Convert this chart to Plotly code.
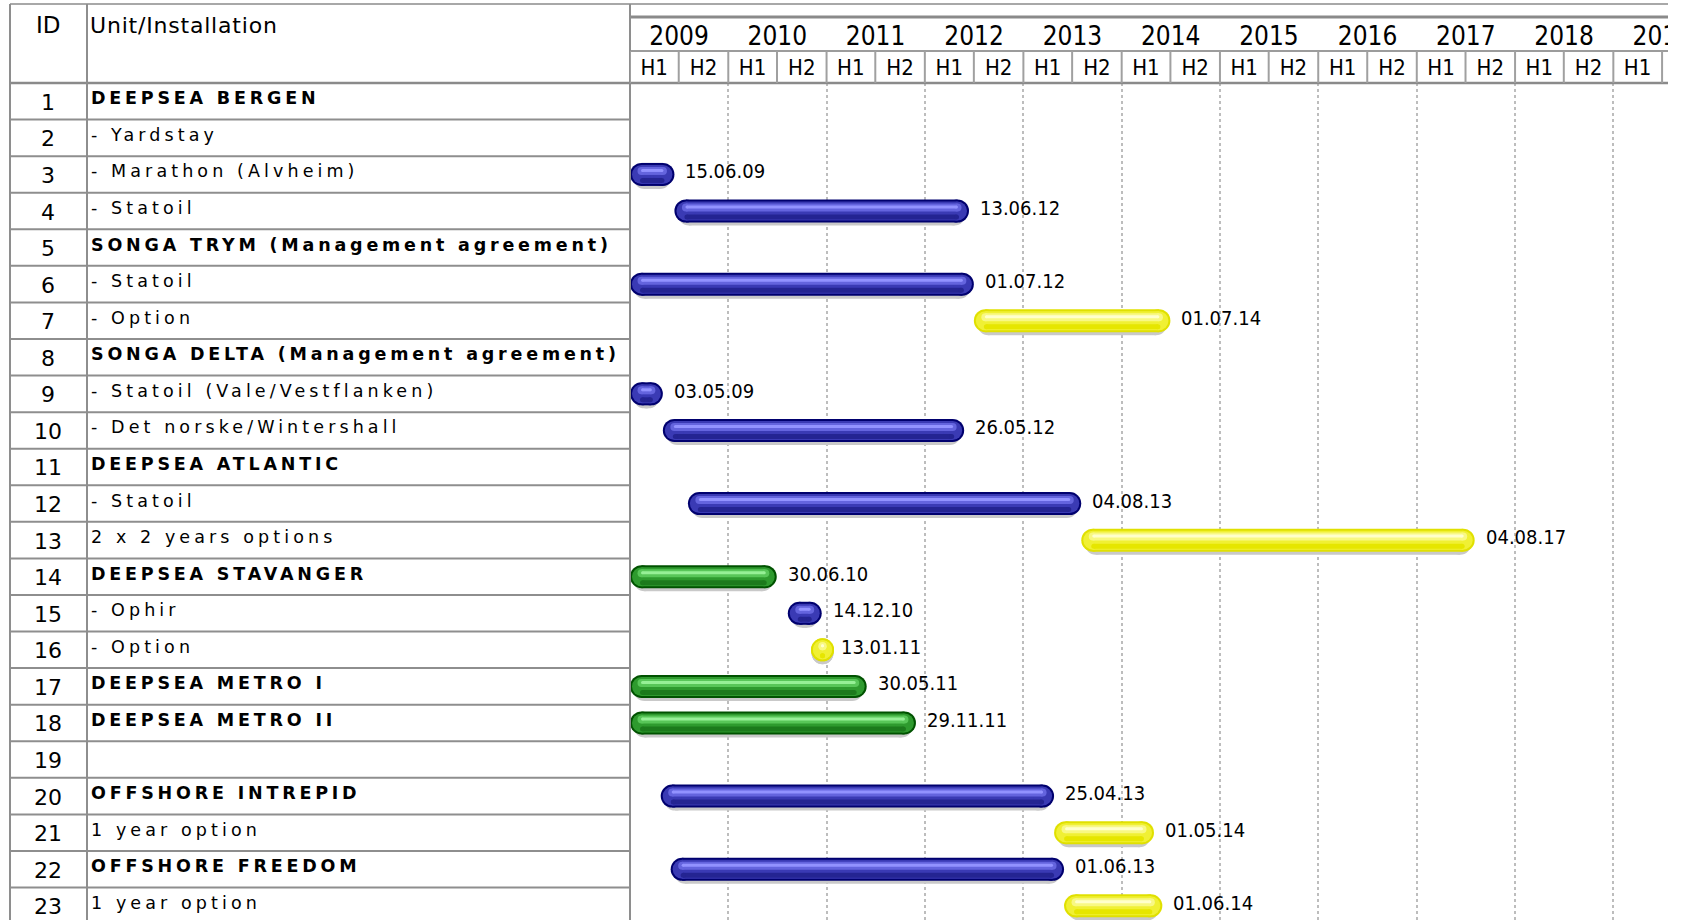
import plotly.graph_objects as go
import pandas as pd

# ---------------- data ----------------
row_ids = list(range(1, 24))
row_names = [
    "DEEPSEA BERGEN", "- Yardstay", "- Marathon (Alvheim)", "- Statoil",
    "SONGA TRYM (Management agreement)", "- Statoil", "- Option",
    "SONGA DELTA (Management agreement)", "- Statoil (Vale/Vestflanken)",
    "- Det norske/Wintershall", "DEEPSEA ATLANTIC", "- Statoil",
    "2 x 2 years options", "DEEPSEA STAVANGER", "- Ophir", "- Option",
    "DEEPSEA METRO I", "DEEPSEA METRO II", "", "OFFSHORE INTREPID",
    "1 year option", "OFFSHORE FREEDOM", "1 year option",
]
bold_rows = [1, 5, 8, 11, 14, 17, 18, 20, 22]

bar_rows = [3, 4, 6, 7, 9, 10, 12, 13, 14, 15, 16, 17, 18, 20, 21, 22, 23]
bar_starts = ["2009-01-01", "2009-06-15", "2009-01-01", "2012-07-01", "2009-01-01",
              "2009-05-03", "2009-08-04", "2013-08-04", "2009-01-01", "2010-08-10",
              "2010-11-20", "2009-01-01", "2009-01-01", "2009-04-25", "2013-04-25",
              "2009-06-01", "2013-06-01"]
bar_ends = ["2009-06-15", "2012-06-13", "2012-07-01", "2014-07-01", "2009-05-03",
            "2012-05-26", "2013-08-04", "2017-08-04", "2010-06-30", "2010-12-14",
            "2011-01-13", "2011-05-30", "2011-11-29", "2013-04-25", "2014-05-01",
            "2013-06-01", "2014-06-01"]
bar_kinds = ["contract", "contract", "contract", "option", "contract", "contract",
             "contract", "option", "own", "contract", "option", "own", "own",
             "contract", "option", "contract", "option"]
end_labels = ["15.06.09", "13.06.12", "01.07.12", "01.07.14", "03.05.09", "26.05.12",
              "04.08.13", "04.08.17", "30.06.10", "14.12.10", "13.01.11", "30.05.11",
              "29.11.11", "25.04.13", "01.05.14", "01.06.13", "01.06.14"]

years = list(range(2009, 2020))
half_labels = ["H1", "H2"]

# ---------------- layout constants ----------------
W, H = 1686, 920
CHART_L, CHART_R = 630, 1668
HEAD_B = 83
ROW_PX = 36.57
x_range = ["2009-01-01", "2019-07-23"]
ms_per_px = (pd.Timestamp(x_range[1]) - pd.Timestamp(x_range[0])).total_seconds() * 1000 / (CHART_R - CHART_L)

COND = "DejaVu Sans Condensed, Liberation Sans Narrow, DejaVu Sans, sans-serif"
WIDE = "DejaVu Sans, Verdana, sans-serif"

palettes = {
    "contract": dict(outline="#00006e", base="#3a3ab4", upper="#6464de", hi="#9292ff", lower="#242492"),
    "own": dict(outline="#005200", base="#2e9a2e", upper="#58c658", hi="#96f096", lower="#1c7a1c"),
    "option": dict(outline="#e0e000", base="#f0f034", upper="#f8f884", hi="#ffffcc", lower="#e6e600"),
}

fig = go.Figure()

BAR_R = 11.5  # half of bar thickness, px


def add_layer(kind, color, thick_px, dy_px, extra_inset_px, marker_px):
    xs, ys = [], []
    for r, s, e, k in zip(bar_rows, bar_starts, bar_ends, bar_kinds):
        if k != kind:
            continue
        s, e = pd.Timestamp(s), pd.Timestamp(e)
        inset = pd.Timedelta(milliseconds=(BAR_R + extra_inset_px) * ms_per_px)
        if (e - s) <= 2 * inset:
            c0 = c1 = s + (e - s) / 2
        else:
            c0, c1 = s + inset, e - inset
        yy = r + dy_px / ROW_PX
        xs += [c0.strftime("%Y-%m-%d %H:%M:%S"), c1.strftime("%Y-%m-%d %H:%M:%S"), None]
        ys += [yy, yy, None]
    fig.add_trace(go.Scatter(
        x=xs, y=ys, mode="lines+markers", connectgaps=False,
        line=dict(color=color, width=thick_px),
        marker=dict(color=color, size=marker_px, line=dict(width=0)),
        hoverinfo="skip", showlegend=False, xaxis="x", yaxis="y",
    ))


for kind, pal in palettes.items():
    add_layer(kind, "#c9c9c9", 22, 3.5, 3, 22)
    add_layer(kind, pal["outline"], 23, 0, 0, 23)
    add_layer(kind, pal["base"], 19, 0, 0, 19)
    add_layer(kind, pal["upper"], 8, -3.5, 0, 8)
    add_layer(kind, pal["hi"], 3, -4, 1, 3)
    add_layer(kind, pal["lower"], 5, 6, 1, 5)

# end-date labels
annotations = []
for r, e, lab in zip(bar_rows, bar_ends, end_labels):
    annotations.append(dict(x=e, y=r, xref="x", yref="y", text=lab, showarrow=False,
                            xanchor="left", yanchor="middle", xshift=9, yshift=3,
                            font=dict(family=COND, size=20, color="#000000")))

# header texts (years, halves) as clipped text traces
fig.add_trace(go.Scatter(
    x=[f"{y}-07-02" for y in years], y=[38.5] * len(years), mode="text",
    text=[str(y) for y in years], textfont=dict(family=COND, size=26, color="#000000"),
    xaxis="x2", yaxis="y2", hoverinfo="skip", showlegend=False,
))
hx, ht = [], []
for y in years:
    hx += [f"{y}-04-01", f"{y}-10-01"]
    ht += half_labels
fig.add_trace(go.Scatter(
    x=hx, y=[69.5] * len(hx), mode="text", text=ht,
    textfont=dict(family=COND, size=22, color="#000000"),
    xaxis="x2", yaxis="y2", hoverinfo="skip", showlegend=False,
))

# table texts
for i, nm in zip(row_ids, row_names):
    annotations.append(dict(x=48 / W, y=i, xref="paper", yref="y", text=str(i), showarrow=False,
                            xanchor="center", yanchor="middle", yshift=-1,
                            font=dict(family=WIDE, size=22, color="#000000")))
    if nm:
        if i in bold_rows:
            txt = f'<span style="letter-spacing:3.8px"><b>{nm}</b></span>'
        else:
            txt = f'<span style="letter-spacing:4.1px">{nm}</span>'
        annotations.append(dict(x=89 / W, y=i, xref="paper", yref="y", text=txt, showarrow=False,
                                xanchor="left", yanchor="middle", yshift=3,
                                font=dict(family=WIDE, size=17.5, color="#000000")))

annotations.append(dict(x=48 / W, y=1 - 25 / H, xref="paper", yref="paper", text="ID", showarrow=False,
                        xanchor="center", yanchor="middle", font=dict(family=WIDE, size=23, color="#000000")))
annotations.append(dict(x=88 / W, y=1 - 25 / H, xref="paper", yref="paper",
                        text='<span style="letter-spacing:0.8px">Unit/Installation</span>',
                        showarrow=False, xanchor="left", yanchor="middle",
                        font=dict(family=WIDE, size=22, color="#000000")))


def px_x(p):
    return p / W


def px_y(p):
    return 1 - p / H


LINE = "#8e8e8e"
shapes = []


def pline(x0, y0, x1, y1, color=LINE, width=2):
    shapes.append(dict(type="line", xref="paper", yref="paper", x0=px_x(x0), x1=px_x(x1),
                       y0=px_y(y0), y1=px_y(y1), line=dict(color=color, width=width)))


pline(10, 4, CHART_R, 4, "#a8a8a8", 2)
pline(CHART_L, 17, CHART_R, 17, "#8a8a8a", 3)
pline(CHART_L, 51, CHART_R, 51, "#9c9c9c", 2)
pline(10, HEAD_B, CHART_R, HEAD_B, "#8a8a8a", 2.5)
pline(10, 4, 10, H)
pline(87, 4, 87, H)
pline(CHART_L, 4, CHART_L, H)

# table row separators
for k in range(1, 23):
    shapes.append(dict(type="line", xref="paper", yref="y", x0=px_x(10), x1=px_x(CHART_L),
                       y0=k + 0.5, y1=k + 0.5, line=dict(color=LINE, width=2)))

# half-year separators in header
for y in years:
    for d in (f"{y}-01-01", f"{y}-07-01"):
        shapes.append(dict(type="line", xref="x2", yref="paper", x0=d, x1=d,
                           y0=px_y(51), y1=px_y(HEAD_B), line=dict(color="#a0a0a0", width=2)))

x_dom = [CHART_L / W, CHART_R / W]
body_rows = (H - HEAD_B) / ROW_PX

fig.update_layout(
    width=W, height=H, margin=dict(l=0, r=0, t=0, b=0),
    paper_bgcolor="white", plot_bgcolor="white",
    showlegend=False,
    xaxis=dict(type="date", domain=x_dom, range=x_range, anchor="y",
               showgrid=True, gridcolor="#bdbdbd", gridwidth=2, griddash="dot",
               dtick="M12", tick0="2009-01-01", showticklabels=False, ticks="",
               zeroline=False, showline=False, fixedrange=True),
    yaxis=dict(domain=[0, 1 - HEAD_B / H], range=[0.5 + body_rows, 0.5], anchor="x",
               showgrid=False, showticklabels=False, zeroline=False, ticks="", fixedrange=True),
    xaxis2=dict(type="date", domain=x_dom, matches="x", anchor="y2", showgrid=False,
                showticklabels=False, ticks="", zeroline=False, showline=False, fixedrange=True),
    yaxis2=dict(domain=[1 - HEAD_B / H, 1], range=[HEAD_B, 0], anchor="x2", showgrid=False,
                showticklabels=False, zeroline=False, ticks="", fixedrange=True),
    annotations=annotations, shapes=shapes,
)

fig.write_html("out.html", config={"displayModeBar": False},
               post_script="document.body.style.margin='0px';")
